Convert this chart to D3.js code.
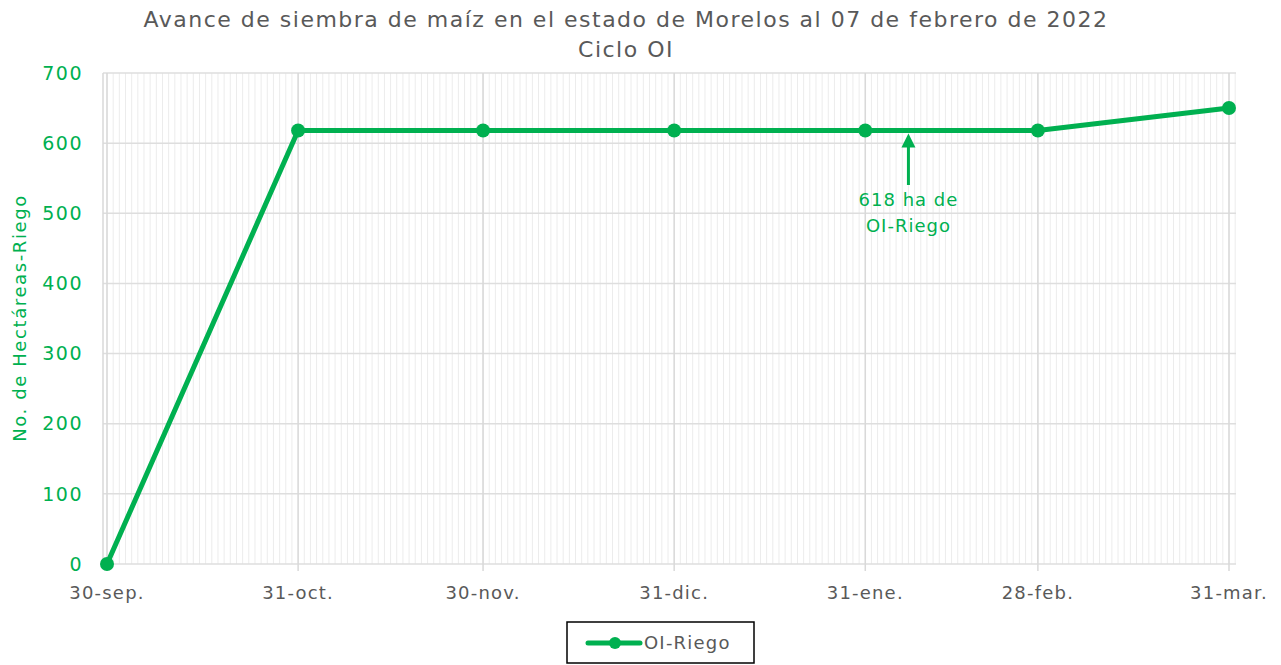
<!DOCTYPE html>
<html lang="es">
  <head>
    <meta charset="utf-8" />
    <script src="https://cdn.jsdelivr.net/npm/d3@7/dist/d3.min.js"></script>
    <title>Avance de siembra</title>
    <style>
      body { margin: 0; background: #fff; }
      text { font-family: "DejaVu Sans", sans-serif; }
    </style>
  </head>
  <body>
    <div id="container"></div>
    <script>
      const fechas = ["2021-09-30", "2021-10-31", "2021-11-30", "2021-12-31", "2022-01-31", "2022-02-28", "2022-03-31"];
      const etiquetas = ["30-sep.", "31-oct.", "30-nov.", "31-dic.", "31-ene.", "28-feb.", "31-mar."];
      const riego = [0, 618, 618, 618, 618, 618, 650];
      const yTicks = [0, 100, 200, 300, 400, 500, 600, 700];
      const notaFecha = "2022-02-07";
      const notaValor = 618;

      const width = 1281, height = 665;
      const green = "#00b050", gray = "#595959";
      const parse = d3.utcParse("%Y-%m-%d");
      const data = fechas.map((f, i) => ({ date: parse(f), value: riego[i], label: etiquetas[i] }));

      const svg = d3.select("#container").append("svg").attr("width", width).attr("height", height);

      const x = d3.scaleUtc().domain([data[0].date, data[data.length - 1].date]).range([107, 1229]);
      const y = d3.scaleLinear().domain([0, 700]).range([564, 73]);

      // plot area + minor daily grid
      const left = 103, right = 1236;
      const days = d3.utcDay.range(d3.utcDay.offset(data[0].date, -1), d3.utcDay.offset(data[data.length - 1].date, 2));
      svg.append("g").selectAll("line").data(days.filter(d => x(d) >= left && x(d) <= right)).join("line")
        .attr("x1", d => x(d)).attr("x2", d => x(d)).attr("y1", y(700)).attr("y2", y(0))
        .attr("stroke", "#ececec").attr("stroke-width", 1);

      svg.append("g").selectAll("line").data(yTicks).join("line")
        .attr("x1", left).attr("x2", right).attr("y1", d => y(d)).attr("y2", d => y(d))
        .attr("stroke", "#dedede").attr("stroke-width", 1.5);

      svg.append("g").selectAll("line").data(data).join("line")
        .attr("x1", d => x(d.date)).attr("x2", d => x(d.date)).attr("y1", y(700)).attr("y2", y(0) + 7)
        .attr("stroke", "#d9d9d9").attr("stroke-width", 1.5);

      svg.append("line").attr("x1", left).attr("x2", left).attr("y1", y(700)).attr("y2", y(0))
        .attr("stroke", "#d9d9d9").attr("stroke-width", 1.5);

      // y labels
      svg.append("g").selectAll("text").data(yTicks).join("text")
        .attr("x", 83).attr("y", d => y(d)).attr("dy", "0.35em").attr("text-anchor", "end")
        .attr("fill", green).attr("font-size", 19).attr("letter-spacing", 1.5).text(d => d);

      // x labels
      svg.append("g").selectAll("text").data(data).join("text")
        .attr("x", d => x(d.date)).attr("y", 599).attr("text-anchor", "middle")
        .attr("fill", gray).attr("font-size", 18).attr("letter-spacing", 1.2).text(d => d.label);

      // y axis title
      svg.append("text").attr("transform", "translate(26,318) rotate(-90)").attr("text-anchor", "middle")
        .attr("fill", green).attr("font-size", 18).attr("letter-spacing", 1.6).text("No. de Hectáreas-Riego");

      // title
      svg.append("text").attr("x", 626).attr("y", 27).attr("text-anchor", "middle")
        .attr("fill", gray).attr("font-size", 22).attr("letter-spacing", 1.5).text("Avance de siembra de maíz en el estado de Morelos al 07 de febrero de 2022");
      svg.append("text").attr("x", 626).attr("y", 57).attr("text-anchor", "middle")
        .attr("fill", gray).attr("font-size", 22).attr("letter-spacing", 1.5).text("Ciclo OI");

      // series
      const line = d3.line().x(d => x(d.date)).y(d => y(d.value));
      svg.append("path").datum(data).attr("d", line).attr("fill", "none")
        .attr("stroke", green).attr("stroke-width", 5).attr("stroke-linejoin", "round");
      svg.append("g").selectAll("circle").data(data).join("circle")
        .attr("cx", d => x(d.date)).attr("cy", d => y(d.value)).attr("r", 7).attr("fill", green);

      // annotation
      const ax = x(parse(notaFecha));
      svg.append("line").attr("x1", ax).attr("x2", ax).attr("y1", 185).attr("y2", y(notaValor) + 16)
        .attr("stroke", green).attr("stroke-width", 3);
      svg.append("path").attr("d", `M${ax - 7},${y(notaValor) + 17}L${ax},${y(notaValor) + 3}L${ax + 7},${y(notaValor) + 17}Z`)
        .attr("fill", green);
      svg.append("text").attr("x", ax).attr("y", 206).attr("text-anchor", "middle")
        .attr("fill", green).attr("font-size", 18).attr("letter-spacing", 1).text(`${notaValor} ha de`);
      svg.append("text").attr("x", ax).attr("y", 232).attr("text-anchor", "middle")
        .attr("fill", green).attr("font-size", 18).attr("letter-spacing", 1).text("OI-Riego");

      // legend
      const lg = svg.append("g").attr("transform", "translate(567,622)");
      lg.append("rect").attr("width", 187).attr("height", 41).attr("fill", "#fff").attr("stroke", "#000").attr("stroke-width", 1.5);
      lg.append("line").attr("x1", 21).attr("x2", 73).attr("y1", 21).attr("y2", 21).attr("stroke", green).attr("stroke-width", 5).attr("stroke-linecap", "round");
      lg.append("circle").attr("cx", 48).attr("cy", 21).attr("r", 6).attr("fill", green);
      lg.append("text").attr("x", 77).attr("y", 21).attr("dy", "0.35em").attr("fill", gray).attr("font-size", 18).attr("letter-spacing", 1.2).text("OI-Riego");
    </script>
  </body>
</html>
